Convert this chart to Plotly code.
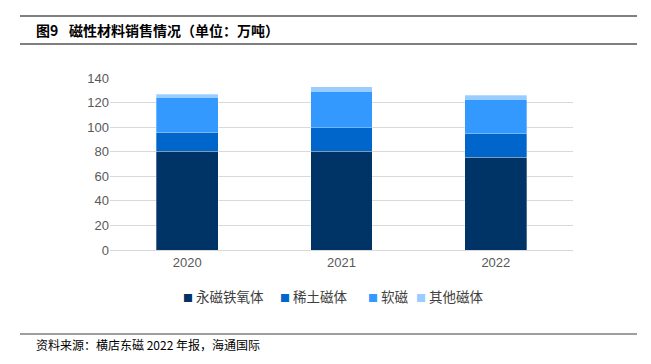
import plotly.graph_objects as go

categories = ["2020", "2021", "2022"]
series_names = ["永磁铁氧体", "稀土磁体", "软磁", "其他磁体"]
ferrite = [80.2, 80.2, 75.3]
rare_earth = [15.8, 19.5, 19.5]
soft = [28.5, 29.7, 28.1]
other = [2.2, 3.3, 3.0]
colors = ["#003366", "#0066CC", "#3399FF", "#99CCFF"]
y_ticks = [0, 20, 40, 60, 80, 100, 120, 140]

W, H = 651, 364
L, R, T, B = 110, 78, 78, 114

fig = go.Figure()
for name, vals, c in zip(series_names, [ferrite, rare_earth, soft, other], colors):
    fig.add_trace(go.Bar(x=categories, y=vals, name=name,
                         marker=dict(color=c, line=dict(width=0.5, color="rgba(255,255,255,0.6)")),
                         width=0.4))

def px_x(x):
    return (x - L) / (W - L - R)

def px_y(y):
    return (H - B - y) / (H - T - B)

shapes = []
for y, col, w in [(16, "#000000", 1), (44, "#000000", 1), (334, "#7f7f7f", 1.5)]:
    shapes.append(dict(type="line", xref="paper", yref="paper", x0=px_x(20), x1=px_x(637),
                       y0=px_y(y), y1=px_y(y), line=dict(color=col, width=w)))

annotations = [
    dict(text="<b>图9</b>", xref="paper", yref="paper",
         x=px_x(34), y=px_y(30), xanchor="left", yanchor="middle", showarrow=False,
         font=dict(size=14, color="#000000", family="Noto Sans CJK SC")),
    dict(text="<b>磁性材料销售情况（单位：万吨）</b>", xref="paper", yref="paper",
         x=px_x(67), y=px_y(30), xanchor="left", yanchor="middle", showarrow=False,
         font=dict(size=14, color="#000000", family="Noto Sans CJK SC")),
    dict(text="资料来源：横店东磁 2022 年报，海通国际", xref="paper", yref="paper",
         x=px_x(34), y=px_y(344), xanchor="left", yanchor="middle", showarrow=False,
         font=dict(size=12, color="#000000", family="Noto Sans CJK SC")),
]

# legend drawn as annotations (compact, like the reference)
legend_x = [181, 278, 366, 414]
for name, c, lx in zip(series_names, colors, legend_x):
    annotations.append(dict(
        text=f"<span style='color:{c};font-size:10px'>■</span> {name}",
        xref="paper", yref="paper", x=px_x(lx), y=px_y(296), xanchor="left", yanchor="middle",
        showarrow=False, font=dict(size=13.5, color="#404040", family="Noto Sans CJK SC")))

fig.update_layout(
    width=W, height=H, barmode="stack",
    margin=dict(l=L, r=R, t=T, b=B, pad=0),
    paper_bgcolor="white", plot_bgcolor="white",
    font=dict(family="Noto Sans CJK SC", color="#595959"),
    shapes=shapes, annotations=annotations,
    showlegend=False,
)
fig.update_xaxes(showgrid=False, showline=True, linecolor="#d9d9d9", linewidth=1,
                 tickfont=dict(size=13, color="#595959", family="Arial, Liberation Sans"), ticks="")
fig.update_yaxes(range=[0, 140], tickvals=y_ticks, showgrid=True, gridcolor="#d9d9d9", gridwidth=1,
                 zeroline=False, showline=False, ticks="", ticklen=0,
                 tickfont=dict(size=13, color="#595959", family="Arial, Liberation Sans"))

fig.write_html("out.html", config={"displayModeBar": False},
               post_script="document.body.style.margin='0';")
